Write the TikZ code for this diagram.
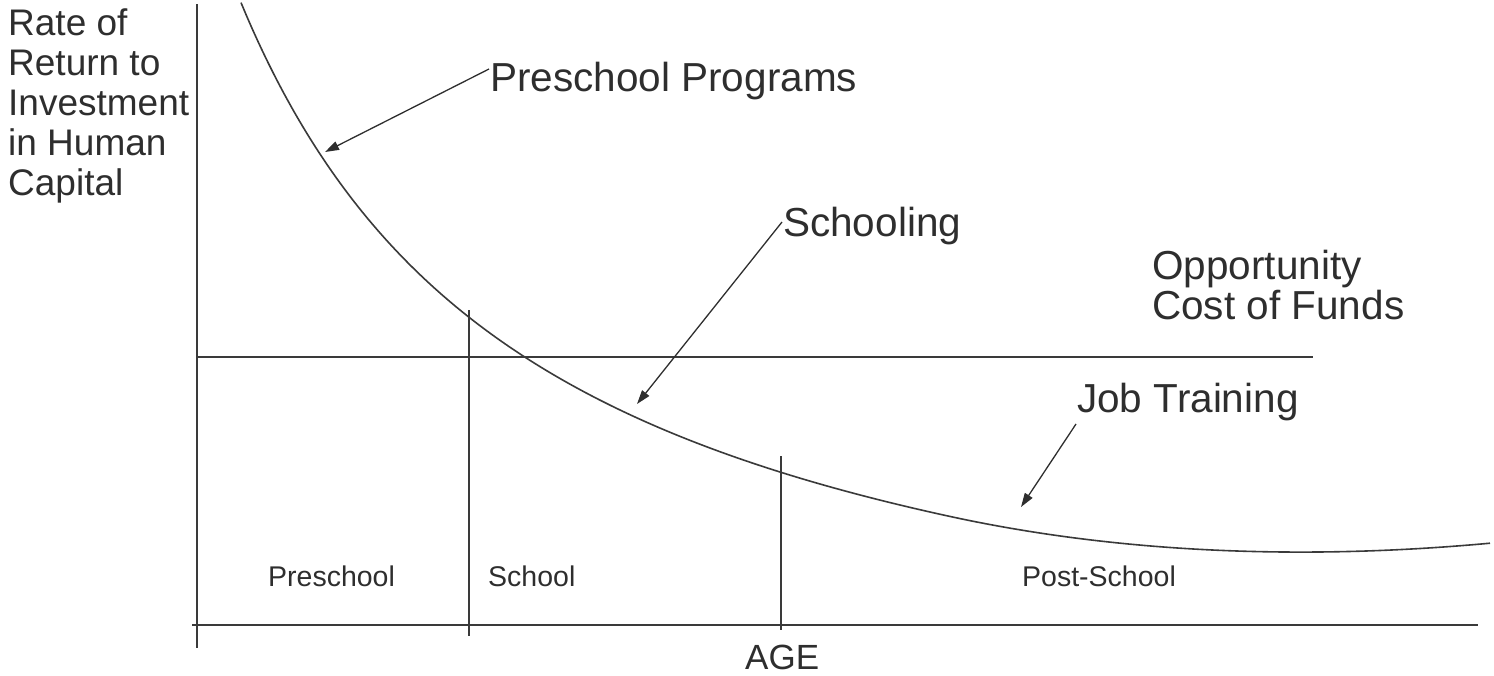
\documentclass[tikz,border=0pt]{standalone}
\usepackage{fontspec}
\setmainfont{Liberation Sans}
\usetikzlibrary{arrows.meta}
\definecolor{ink}{HTML}{2E2E2E}
\definecolor{linecol}{HTML}{3A3A3A}
\tikzset{
  lbl/.style={anchor=base west, inner sep=0pt, text=ink, font=\fontsize{40.5}{40}\selectfont, align=left},
  axlbl/.style={anchor=north west, inner sep=0pt, text=ink, font=\fontsize{37}{40}\selectfont, align=left},
  small/.style={anchor=base west, inner sep=0pt, text=ink, font=\fontsize{28.5}{30}\selectfont},
  axis/.style={draw=linecol, line width=1.4pt},
  thin/.style={draw=linecol, line width=1.1pt},
  curve/.style={draw=linecol, line width=1.6pt},
  pointer/.style={draw=ink, line width=1.3pt, -{Triangle[length=14pt,width=9pt]}}
}
\begin{document}
\begin{tikzpicture}[x=1pt,y=-1pt]
\useasboundingbox (0,0) rectangle (1494,675);
% axes and lines
\coordinate (yTop) at (197,4);
\coordinate (yBot) at (197,648);
\coordinate (xL) at (192,625);
\coordinate (xR) at (1478,625);
\coordinate (ocL) at (197,357);
\coordinate (ocR) at (1313,357);
\coordinate (v1T) at (469,310);
\coordinate (v1B) at (469,636);
\coordinate (v2T) at (781,456);
\coordinate (v2B) at (781,630);
\draw[axis] (yTop) -- (yBot);
\draw[axis] (xL) -- (xR);
\draw[thin] (ocL) -- (ocR);
\draw[thin] (v1T) -- (v1B);
\draw[thin] (v2T) -- (v2B);
% curve
\draw[curve] plot[domain=241:1490, samples=240, smooth]
  (\x, {736.8 - 2232.39/((\x+63.06)/100) - 1.71*(max(\x-950,0)/100)^2});
% labels
\node[axlbl] (ylab) at (8,9) {Rate of\\Return to\\Investment\\in Human\\Capital};
\node[lbl] (pp) at (490,91) {Preschool Programs};
\node[lbl] (sch) at (783,236) {Schooling};
\node[lbl, anchor=north west] (oc) at (1152,250) {Opportunity\\Cost of Funds};
\node[lbl] (jt) at (1077,412) {Job Training};
\node[small] (pre) at (268,586) {Preschool};
\node[small] (school) at (488,586) {School};
\node[small] (post) at (1022,586) {Post-School};
\node[anchor=base west, inner sep=0pt, text=ink, font=\fontsize{35}{36}\selectfont] (age) at (745,669) {AGE};
% pointer arrows
\coordinate (ppFrom) at (489,69);
\coordinate (ppTip) at (325,152);
\coordinate (schFrom) at (782,222);
\coordinate (schTip) at (637,404);
\coordinate (jtFrom) at (1076,424);
\coordinate (jtTip) at (1021,507);
\draw[pointer] (ppFrom) -- (ppTip);
\draw[pointer] (schFrom) -- (schTip);
\draw[pointer] (jtFrom) -- (jtTip);
\end{tikzpicture}
\end{document}
